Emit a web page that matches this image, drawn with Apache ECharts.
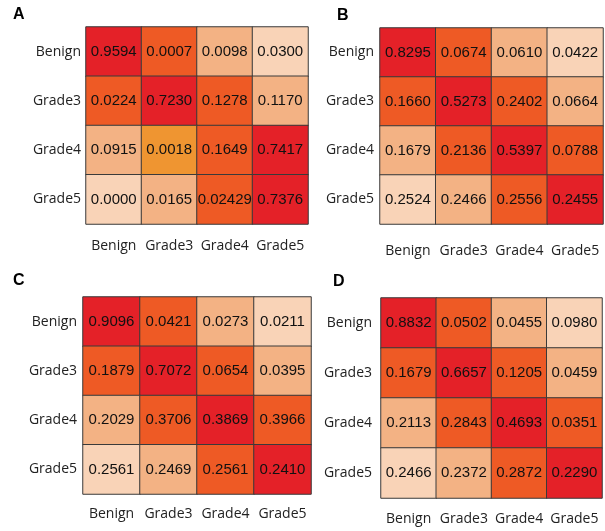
<!DOCTYPE html>
<html>
<head>
<meta charset="utf-8">
<script src="https://cdn.jsdelivr.net/npm/echarts@6/dist/echarts.min.js"></script>
<style>html,body{margin:0;padding:0;background:#fff;}#c{width:605px;height:531px;}</style>
</head>
<body>
<div id="c"></div>
<script>
var categories = ['Benign', 'Grade3', 'Grade4', 'Grade5'];
var panelNames = ['A', 'B', 'C', 'D'];

// values per panel, rows = actual (Benign..Grade5), cols = predicted (Benign..Grade5)
var valuesA = [
  ['0.9594', '0.0007', '0.0098', '0.0300'],
  ['0.0224', '0.7230', '0.1278', '0.1170'],
  ['0.0915', '0.0018', '0.1649', '0.7417'],
  ['0.0000', '0.0165', '0.02429', '0.7376']
];
var valuesB = [
  ['0.8295', '0.0674', '0.0610', '0.0422'],
  ['0.1660', '0.5273', '0.2402', '0.0664'],
  ['0.1679', '0.2136', '0.5397', '0.0788'],
  ['0.2524', '0.2466', '0.2556', '0.2455']
];
var valuesC = [
  ['0.9096', '0.0421', '0.0273', '0.0211'],
  ['0.1879', '0.7072', '0.0654', '0.0395'],
  ['0.2029', '0.3706', '0.3869', '0.3966'],
  ['0.2561', '0.2469', '0.2561', '0.2410']
];
var valuesD = [
  ['0.8832', '0.0502', '0.0455', '0.0980'],
  ['0.1679', '0.6657', '0.1205', '0.0459'],
  ['0.2113', '0.2843', '0.4693', '0.0351'],
  ['0.2466', '0.2372', '0.2872', '0.2290']
];

// colour class of each cell as drawn in the figure
var levelsA = [[3, 2, 1, 0], [2, 3, 2, 1], [1, 4, 2, 3], [0, 1, 2, 3]];
var levelsB = [[3, 2, 1, 0], [2, 3, 2, 1], [1, 2, 3, 2], [0, 1, 2, 3]];
var levelsC = [[3, 2, 1, 0], [2, 3, 2, 1], [1, 2, 3, 2], [0, 1, 2, 3]];
var levelsD = [[3, 2, 1, 0], [2, 3, 2, 1], [1, 2, 3, 2], [0, 1, 2, 3]];

var allValues = [valuesA, valuesB, valuesC, valuesD];
var allLevels = [levelsA, levelsB, levelsC, levelsD];

var grids = [
  {left: 86, top: 27, width: 222, height: 197},
  {left: 380, top: 28, width: 223, height: 196},
  {left: 83, top: 297, width: 228, height: 197},
  {left: 381, top: 298, width: 221, height: 200}
];
var xMargins = [15, 20, 13, 14];
var yMargins = [5, 6, 6, 9];
var titlePos = [[13, 7], [337, 8], [13, 273], [333, 274]];

var palette = ['#F9D3B7', '#F3B284', '#EE5A25', '#E42128', '#EF9531'];

var option = {
  animation: false,
  backgroundColor: '#fff',
  title: panelNames.map(function (n, i) {
    return {text: n, left: titlePos[i][0], top: titlePos[i][1], padding: 0,
      textStyle: {fontFamily: 'Liberation Sans', fontWeight: 'bold', fontSize: 16, color: '#000'}};
  }),
  grid: grids,
  xAxis: grids.map(function (g, i) {
    return {type: 'category', gridIndex: i, data: categories, position: 'bottom',
      axisLine: {show: false}, axisTick: {show: false}, splitLine: {show: false},
      axisLabel: {interval: 0, margin: xMargins[i], fontFamily: 'Open Sans', fontSize: 14, color: '#222'}};
  }),
  yAxis: grids.map(function (g, i) {
    return {type: 'category', gridIndex: i, data: categories, inverse: true,
      axisLine: {show: false}, axisTick: {show: false}, splitLine: {show: false},
      axisLabel: {interval: 0, margin: yMargins[i], fontFamily: 'Open Sans', fontSize: 14, color: '#222'}};
  }),
  visualMap: {
    type: 'piecewise', show: false, dimension: 3, seriesIndex: [0, 1, 2, 3],
    pieces: palette.map(function (c, k) { return {value: k, color: c}; })
  },
  series: allValues.map(function (vals, i) {
    var data = [];
    for (var r = 0; r < 4; r++) {
      for (var c = 0; c < 4; c++) {
        data.push([c, r, parseFloat(vals[r][c]), allLevels[i][r][c], vals[r][c]]);
      }
    }
    return {
      type: 'heatmap', xAxisIndex: i, yAxisIndex: i, data: data,
      itemStyle: {borderColor: '#3a3a3a', borderWidth: 1},
      label: {show: true, fontFamily: 'Liberation Sans', fontSize: 15, color: '#111',
        formatter: function (p) { return p.data[4]; }},
      emphasis: {disabled: true}
    };
  })
};

var chart = echarts.init(document.getElementById('c'), null, {renderer: 'canvas'});
chart.setOption(option);
</script>
</body>
</html>
